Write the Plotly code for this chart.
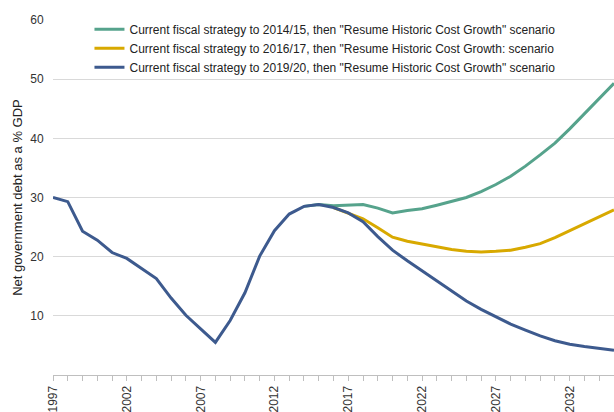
import plotly.graph_objects as go

years_blue = list(range(1997, 2036))
blue = [30.0, 29.3, 24.3, 22.8, 20.7, 19.7, 18.0, 16.3, 13.0, 10.1, 7.8, 5.5, 9.2, 13.9,
        20.1, 24.4, 27.2, 28.5, 28.8, 28.3, 27.4, 25.9, 23.4, 21.1, 19.3, 17.6, 15.8, 14.1,
        12.5, 11.1, 9.8, 8.6, 7.6, 6.6, 5.8, 5.2, 4.8, 4.5, 4.2]

years_green = list(range(2014, 2036))
green = [28.5, 28.8, 28.6, 28.7, 28.8, 28.2, 27.4, 27.8, 28.1, 28.7, 29.3, 30.0, 31.0,
         32.2, 33.6, 35.3, 37.2, 39.2, 41.6, 44.2, 46.8, 49.3]

years_yellow = list(range(2016, 2036))
yellow = [28.3, 27.4, 26.4, 24.9, 23.3, 22.6, 22.1, 21.6, 21.2, 20.9, 20.8, 20.9, 21.1,
          21.6, 22.2, 23.2, 24.4, 25.5, 26.7, 27.9]

names = [
    'Current fiscal strategy to 2014/15, then "Resume Historic Cost Growth" scenario',
    'Current fiscal strategy to 2016/17, then "Resume Historic Cost Growth: scenario',
    'Current fiscal strategy to 2019/20, then "Resume Historic Cost Growth" scenario',
]
colors = ["#56A38C", "#D8A900", "#3D5A8E"]

x_ticks = list(range(1997, 2033, 5))
y_ticks = [10, 20, 30, 40, 50, 60]

fig = go.Figure()
for xs, ys, nm, c in zip([years_green, years_yellow, years_blue], [green, yellow, blue], names, colors):
    fig.add_trace(go.Scatter(x=xs, y=ys, mode="lines", name=nm,
                             line=dict(color=c, width=3), hoverinfo="skip"))

fig.update_layout(
    width=614, height=412,
    margin=dict(l=53, r=0, t=20, b=37),
    paper_bgcolor="white", plot_bgcolor="white",
    font=dict(family="Liberation Sans, Arial, sans-serif", size=12, color="#333333"),
    showlegend=True,
    legend=dict(x=0.065, y=1.015, xanchor="left", yanchor="top",
                bgcolor="rgba(255,255,255,0)", itemwidth=30,
                font=dict(size=12, color="#222222"), tracegroupgap=0),
    xaxis=dict(range=[1997, 2035], tickmode="array", tickvals=x_ticks,
               ticktext=[str(v) for v in x_ticks], tickangle=-90,
               showgrid=False, zeroline=False, showline=True, linecolor="#BFBFBF",
               linewidth=1, ticks="outside", ticklen=5, tickcolor="#BFBFBF",
               minor=dict(dtick=1, ticks="outside", ticklen=5, tickcolor="#BFBFBF", showgrid=False),
               tickfont=dict(size=12, color="#333333"), automargin=False),
    yaxis=dict(range=[0, 60], tickmode="array", tickvals=y_ticks,
               showgrid=True, gridcolor="#D9D9D9", gridwidth=1, zeroline=False,
               showline=False, ticks="outside", ticklen=6, tickcolor="rgba(0,0,0,0)",
               tickfont=dict(size=12, color="#333333"),
               title=dict(text="Net government debt as a % GDP", font=dict(size=13, color="#222222"),
                          standoff=4),
               automargin=False),
)

fig.write_html("out.html")
